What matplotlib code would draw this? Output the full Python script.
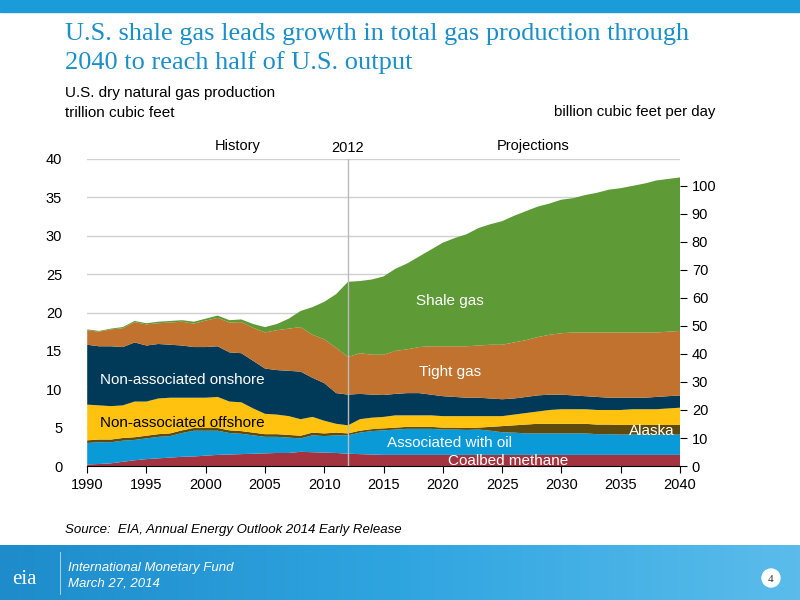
import numpy as np
import matplotlib
matplotlib.use("Agg")
import matplotlib.pyplot as plt
from matplotlib.patches import Rectangle, Circle

# years 1990-2040 (history to 2011, projections from 2012)
years = list(range(1990, 2041))

# trillion cubic feet
coalbed = [0.2, 0.26, 0.35, 0.55, 0.75, 0.9, 1.0, 1.1, 1.2, 1.25, 1.35, 1.45, 1.5, 1.55, 1.6, 1.65,
           1.7, 1.7, 1.85, 1.8, 1.75, 1.7,
           1.6, 1.55, 1.5, 1.45, 1.45, 1.45, 1.45, 1.45, 1.45, 1.45, 1.45, 1.45, 1.45, 1.45, 1.45,
           1.45, 1.45, 1.45, 1.45, 1.45, 1.45, 1.45, 1.45, 1.45, 1.45, 1.45, 1.45, 1.45, 1.45]
assoc_oil = [2.8, 2.84, 2.75, 2.75, 2.65, 2.7, 2.8, 2.8, 3.1, 3.35, 3.25, 3.15, 2.8, 2.65, 2.4, 2.15,
             2.1, 2.0, 1.75, 2.2, 2.15, 2.3,
             2.4, 2.8, 3.05, 3.2, 3.3, 3.4, 3.4, 3.4, 3.3, 3.3, 3.25, 3.3, 3.15, 2.95, 2.9,
             2.8, 2.8, 2.8, 2.8, 2.8, 2.8, 2.7, 2.7, 2.65, 2.65, 2.65, 2.65, 2.65, 2.65]
alaska = [0.35] * 22 + [0.25] * 12 + [0.5, 0.8, 0.95, 1.15, 1.25, 1.25, 1.25, 1.25, 1.25,
                                      1.25, 1.25, 1.25, 1.25, 1.25, 1.25, 1.25, 1.25]
offshore = [4.65, 4.45, 4.35, 4.25, 4.65, 4.45, 4.65, 4.65, 4.25, 3.95, 3.95, 4.05, 3.75, 3.75, 3.15, 2.65,
            2.55, 2.45, 2.15, 2.05, 1.65, 1.15,
            1.05, 1.5, 1.5, 1.5, 1.6, 1.5, 1.5, 1.5, 1.5, 1.5, 1.55, 1.5, 1.4, 1.3, 1.4,
            1.5, 1.6, 1.8, 1.9, 1.9, 1.9, 1.9, 1.9, 1.95, 2.05, 2.05, 2.05, 2.15, 2.25]
onshore = [7.8, 7.7, 7.8, 7.6, 7.7, 7.3, 7.1, 6.9, 6.8, 6.6, 6.6, 6.6, 6.4, 6.4, 6.2, 5.9,
           5.8, 5.9, 6.2, 5.1, 4.9, 4.0,
           4.0, 3.3, 3.0, 2.85, 2.8, 2.9, 2.9, 2.7, 2.6, 2.5, 2.4, 2.4, 2.3, 2.2, 2.1,
           2.1, 2.1, 2.0, 1.9, 1.8, 1.7, 1.7, 1.6, 1.6, 1.5, 1.5, 1.6, 1.6, 1.6]
tight = [1.9, 1.9, 2.2, 2.45, 2.65, 2.75, 2.7, 2.9, 3.1, 3.05, 3.45, 3.7, 3.9, 4.05, 4.3, 4.7,
         5.2, 5.5, 5.8, 5.6, 5.7, 5.9,
         4.9, 5.3, 5.2, 5.25, 5.6, 5.7, 6.0, 6.3, 6.5, 6.6, 6.7, 6.8, 7.0, 7.1, 7.3,
         7.4, 7.6, 7.8, 8.0, 8.2, 8.3, 8.4, 8.5, 8.5, 8.5, 8.5, 8.4, 8.4, 8.4]
shale = [0.1, 0.1, 0.1, 0.15, 0.15, 0.15, 0.2, 0.2, 0.2, 0.25, 0.25, 0.3, 0.3, 0.35, 0.5, 0.7,
         0.8, 1.3, 2.1, 3.6, 4.9, 7.0,
         9.8, 9.4, 9.8, 10.2, 10.7, 11.2, 11.8, 12.6, 13.5, 14.1, 14.6, 15.3, 15.7, 16.1, 16.5,
         16.8, 17.0, 17.1, 17.4, 17.5, 17.9, 18.2, 18.6, 18.8, 19.1, 19.4, 19.8, 19.9, 20.0]

colors = ["#A3343F", "#0A9AD8", "#5E4A0C", "#FFC20E", "#013A58", "#C1722E", "#5E9A35"]

plt.rcParams['font.family'] = ['Liberation Sans', 'DejaVu Sans']

fig = plt.figure(figsize=(8, 6), dpi=100)

# top bar and footer band
bg = fig.add_axes([0, 0, 1, 1], zorder=-5)
bg.axis("off")
bg.add_patch(Rectangle((0, 0), 800, 12, color="#1B9BD7"))
grad = np.linspace(0, 1, 256).reshape(1, -1)
bg.imshow(grad, extent=[0, 800, 600, 545], cmap=matplotlib.colors.LinearSegmentedColormap.from_list(
    "ft", ["#1E8CCB", "#2FA5E0", "#5BBCEB"]), aspect="auto")
bg.set_xlim(0, 800)
bg.set_ylim(600, 0)
bg.plot([60, 60], [552, 594], color="white", lw=0.6, alpha=0.7)
bg.add_patch(Circle((771, 578), 9, color="white"))
bg.text(771, 579, "4", ha="center", va="center", fontsize=8, family="Liberation Serif", color="#333333")
bg.text(24, 584, "eia", ha="center", va="baseline", fontsize=15, family="Liberation Serif", color="white")

fig.text(0.081, 0.933, "U.S. shale gas leads growth in total gas production through",
         fontsize=19, family="Liberation Serif", color="#1A8FC9", va="baseline")
fig.text(0.081, 0.885, "2040 to reach half of U.S. output",
         fontsize=19, family="Liberation Serif", color="#1A8FC9", va="baseline")
fig.text(0.081, 0.839, "U.S. dry natural gas production", fontsize=11, va="baseline")
fig.text(0.081, 0.805, "trillion cubic feet", fontsize=11, va="baseline")
fig.text(0.894, 0.806, "billion cubic feet per day", fontsize=10.8, va="baseline", ha="right")
fig.text(0.081, 0.112, "Source:  EIA, Annual Energy Outlook 2014 Early Release", fontsize=9.5,
         style="italic", va="baseline")
fig.text(0.085, 0.048, "International Monetary Fund", fontsize=9.5, style="italic", color="white", va="baseline")
fig.text(0.085, 0.022, "March 27, 2014", fontsize=9.5, style="italic", color="white", va="baseline")

ax = fig.add_axes([0.109, 0.2233, 0.741, 0.5117])
ax.stackplot(years, coalbed, assoc_oil, alaska, offshore, onshore, tight, shale,
             colors=colors, linewidth=0, zorder=2)
ax.set_xlim(1990, 2040)
ax.set_ylim(0, 40)
ax.set_yticks(range(0, 41, 5))
ax.set_xticks(range(1990, 2041, 5))
ax.grid(axis="y", color="#D0D0D0", lw=1, zorder=0)
for s in ["left", "top", "right"]:
    ax.spines[s].set_visible(False)
ax.spines["bottom"].set_color("black")
ax.tick_params(axis="y", length=0, labelsize=10.5, pad=18)
ax.tick_params(axis="x", length=5, direction="out", labelsize=10.5)
ax.axvline(2012, color="#BBBBBB", lw=1, zorder=3)

ax2 = ax.twinx()
ax2.set_ylim(0, 40 / 0.365)
ax2.set_yticks(range(0, 101, 10))
for s in ["left", "top", "right", "bottom"]:
    ax2.spines[s].set_visible(False)
ax2.tick_params(axis="y", length=5, direction="out", labelsize=10.5, color="black")

ax.text(2002.7, 41.2, "History", ha="center", fontsize=10.5)
ax.text(2012, 40.9, "2012", ha="center", fontsize=10.5)
ax.text(2027.6, 41.2, "Projections", ha="center", fontsize=10.5)

ax.text(2020.6, 21.5, "Shale gas", color="white", ha="center", va="center", fontsize=11)
ax.text(2020.6, 12.2, "Tight gas", color="white", ha="center", va="center", fontsize=11)
ax.text(1998.0, 11.2, "Non-associated onshore", color="white", ha="center", va="center", fontsize=11)
ax.text(1998.0, 5.6, "Non-associated offshore", color="black", ha="center", va="center", fontsize=11)
ax.text(2020.6, 3.0, "Associated with oil", color="white", ha="center", va="center", fontsize=11)
ax.text(2037.6, 4.6, "Alaska", color="white", ha="center", va="center", fontsize=11)
ax.text(2025.5, 0.65, "Coalbed methane", color="white", ha="center", va="center", fontsize=11)

fig.savefig("out.png", dpi=100)
